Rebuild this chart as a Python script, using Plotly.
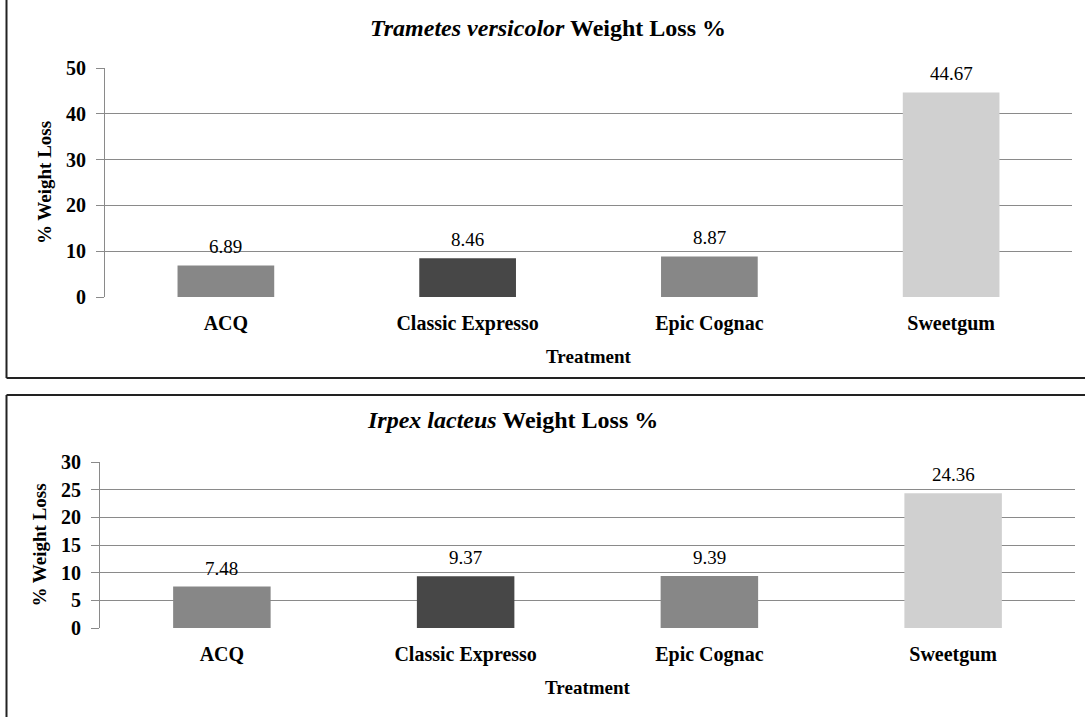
import plotly.graph_objects as go

# Treatments and measured weight loss (%) for each fungus
treatments = ["ACQ", "Classic Expresso", "Epic Cognac", "Sweetgum"]
trametes_loss = [6.89, 8.46, 8.87, 44.67]
irpex_loss = [7.48, 9.37, 9.39, 24.36]
bar_colors = ["#878787", "#474747", "#878787", "#d0d0d0"]

W, H = 1085, 717
SERIF = "Liberation Serif"


def px(x):
    return x / W


def py(y):
    return 1 - y / H


fig = go.Figure()

fig.add_trace(go.Bar(x=treatments, y=trametes_loss, marker_color=bar_colors,
                     marker_line_width=0, xaxis="x", yaxis="y", showlegend=False,
                     hoverinfo="x+y"))
fig.add_trace(go.Bar(x=treatments, y=irpex_loss, marker_color=bar_colors,
                     marker_line_width=0, xaxis="x2", yaxis="y2", showlegend=False,
                     hoverinfo="x+y"))

xtick_font = dict(family=SERIF, size=20, color="black", weight="bold")
ytick_font = dict(family=SERIF, size=20, color="black", weight="bold")
title_font = dict(family=SERIF, size=19, color="black", weight="bold")

common_x = dict(type="category", showgrid=False, showline=False, ticks="",
                tickfont=xtick_font, ticklabelstandoff=12, automargin=False,
                fixedrange=True)
common_y = dict(showgrid=True, gridcolor="#8a8a8a", gridwidth=1, showline=True,
                linecolor="#8a8a8a", linewidth=1, ticks="outside", ticklen=8,
                tickcolor="#8a8a8a", tickfont=ytick_font, ticklabelstandoff=6,
                zeroline=False, automargin=False, fixedrange=True)

fig.update_layout(
    width=W, height=H,
    margin=dict(l=0, r=0, t=0, b=0, autoexpand=False),
    paper_bgcolor="white", plot_bgcolor="white",
    bargap=0.6,
    font=dict(family=SERIF, color="black"),
    xaxis=dict(domain=[px(105), px(1072)], anchor="y",
               title=dict(text="Treatment", font=title_font, standoff=15),
               **common_x),
    yaxis=dict(domain=[py(297), py(68)], anchor="x", range=[0, 50], dtick=10,
               title=dict(text="% Weight Loss", font=title_font, standoff=9),
               **common_y),
    xaxis2=dict(domain=[px(100), px(1075)], anchor="y2",
                title=dict(text="Treatment", font=title_font, standoff=15),
                **common_x),
    yaxis2=dict(domain=[py(628), py(462)], anchor="x2", range=[0, 30], dtick=5,
                title=dict(text="% Weight Loss", font=title_font, standoff=9),
                **common_y),
)

label_font = dict(family=SERIF, size=19, color="black")
annotations = []
# value labels above each bar
for cat, v in zip(treatments, trametes_loss):
    annotations.append(dict(x=cat, y=v, xref="x", yref="y", text=f"{v:.2f}",
                            showarrow=False, yanchor="bottom", yshift=6,
                            font=label_font))
for cat, v in zip(treatments, irpex_loss):
    annotations.append(dict(x=cat, y=v, xref="x2", yref="y2", text=f"{v:.2f}",
                            showarrow=False, yanchor="bottom", yshift=6,
                            font=label_font))

# panel titles
panel_title_font = dict(family=SERIF, size=24, color="black", weight="bold")
annotations.append(dict(x=px(548), y=py(28), xref="paper", yref="paper",
                        text="<i>Trametes versicolor</i> Weight Loss %",
                        showarrow=False, xanchor="center", yanchor="middle",
                        font=panel_title_font))
annotations.append(dict(x=px(512), y=py(420), xref="paper", yref="paper",
                        text="<i>Irpex lacteus</i> Weight Loss %",
                        showarrow=False, xanchor="center", yanchor="middle",
                        font=panel_title_font))
fig.update_layout(annotations=annotations)

# panel frames: left edge and horizontal separators
frame = dict(color="#222222", width=2)
fig.update_layout(shapes=[
    dict(type="line", xref="paper", yref="paper", x0=px(6.5), x1=px(6.5),
         y0=py(0), y1=py(378), line=frame),
    dict(type="line", xref="paper", yref="paper", x0=px(6.5), x1=1,
         y0=py(378), y1=py(378), line=frame),
    dict(type="line", xref="paper", yref="paper", x0=px(6.5), x1=1,
         y0=py(395), y1=py(395), line=frame),
    dict(type="line", xref="paper", yref="paper", x0=px(6.5), x1=px(6.5),
         y0=py(395), y1=py(717), line=frame),
])

fig.write_html("out.html")
